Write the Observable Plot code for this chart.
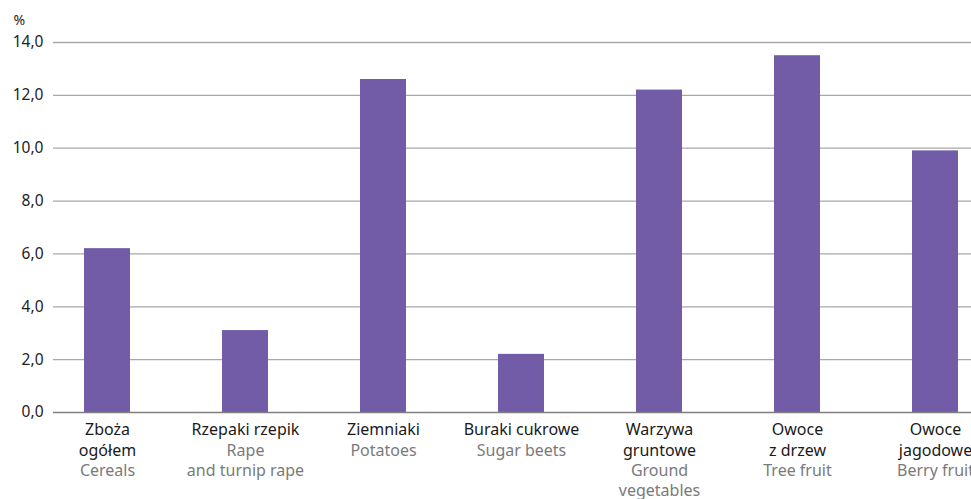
<!DOCTYPE html>
<html>
<head>
<meta charset="utf-8">
<script src="https://cdn.jsdelivr.net/npm/d3@7"></script>
<script src="https://cdn.jsdelivr.net/npm/@observablehq/plot@0.6"></script>
<style>
  html, body { margin: 0; padding: 0; background: #fff; overflow: hidden; }
  #chart svg { font-family: "Noto Sans", sans-serif; }
</style>
</head>
<body>
<div id="chart"></div>
<script>
const categoriesPL = ["Zboża\nogółem", "Rzepaki rzepik", "Ziemniaki", "Buraki cukrowe", "Warzywa\ngruntowe", "Owoce\nz drzew", "Owoce\njagodowe"];
const categoriesEN = ["Cereals", "Rape\nand turnip rape", "Potatoes", "Sugar beets", "Ground\nvegetables", "Tree fruit", "Berry fruit"];
const values = [6.2, 3.1, 12.6, 2.2, 12.2, 13.5, 9.9];
const yTicks = [0, 2, 4, 6, 8, 10, 12, 14];
const unitLabel = "%";

const data = categoriesPL.map((pl, i) => ({
  key: i,
  pl,
  en: "\n".repeat(pl.split("\n").length) + categoriesEN[i],
  value: values[i]
}));

const chart = Plot.plot({
  width: 971,
  height: 499,
  marginLeft: 53,
  marginRight: 0,
  marginTop: 42,
  marginBottom: 87,
  style: { fontFamily: "Noto Sans, sans-serif", fontSize: "15px", color: "#222" },
  x: { domain: d3.range(categoriesPL.length), range: [35, 35 + 7 * 138.7], paddingInner: 0.668, paddingOuter: 0.334, axis: null },
  y: { domain: [0, 14], axis: null },
  marks: [
    Plot.ruleY(yTicks.filter(d => d > 0), { stroke: "#a8a8a8", strokeWidth: 1.3 }),
    Plot.barY(data, { x: "key", y: "value", fill: "#725ba7" }),
    Plot.ruleY([0], { stroke: "#808080", strokeWidth: 1.3 }),
    Plot.axisY(yTicks, {
      tickSize: 0, tickPadding: 10, fontSize: 15.5, fill: "#222",
      tickFormat: d => d.toFixed(1).replace(".", ","), label: null
    }),
    Plot.text([unitLabel], { frameAnchor: "top-left", dx: -40, dy: -27, textAnchor: "start", fontSize: 14, fill: "#222" }),
    Plot.text(data, { x: "key", text: "pl", frameAnchor: "bottom", lineAnchor: "top", dy: 8, lineHeight: 1.28, fontSize: 16, fill: "#1a1a1a" }),
    Plot.text(data, { x: "key", text: "en", frameAnchor: "bottom", lineAnchor: "top", dy: 8, lineHeight: 1.28, fontSize: 16, fill: "#7a7a7a" })
  ]
});
document.getElementById("chart").appendChild(chart);
</script>
</body>
</html>
